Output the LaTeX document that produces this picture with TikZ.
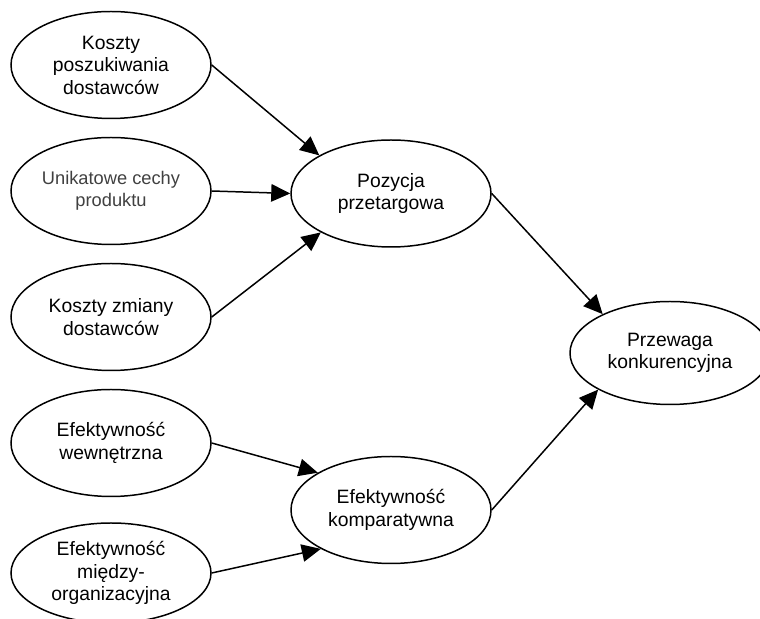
\documentclass[tikz,border=0pt]{standalone}
\usepackage{fontspec}
\setmainfont{Liberation Sans}
\usepackage{tikz}
\usetikzlibrary{shapes.geometric, arrows.meta, positioning}

\begin{document}
\begin{tikzpicture}[
    factor/.style={ellipse, draw, line width=0.85pt, inner sep=0pt,
        minimum width=4cm, minimum height=2.14cm, align=center,
        font=\fontsize{11}{12.8}\selectfont},
    link/.style={line width=0.85pt, -{Triangle[length=0.38cm, width=0.35cm]}}
]
    \useasboundingbox (0,0) rectangle (15.2,12.38);

    % Factors
    \node[factor] (kposz) at (2.22, 11.08) {Koszty\\poszukiwania\\dostawców};
    \node[factor, font=\fontsize{10.4}{12.3}\selectfont, text=black!75] (unik) at (2.22, 8.56) {Unikatowe cechy\\produktu};
    \node[factor] (kzmiany) at (2.22, 6.04) {Koszty zmiany\\dostawców};
    \node[factor] (efwew) at (2.22, 3.52) {Efektywność\\wewnętrzna};
    \node[factor, minimum height=2cm] (efmiedzy) at (2.22, 0.92) {Efektywność\\między-\\organizacyjna};

    % Middle level
    \node[factor] (pozycja) at (7.82, 8.51) {Pozycja\\przetargowa};
    \node[factor] (efkomp) at (7.82, 2.18) {Efektywność\\komparatywna};

    % Result
    \node[factor, minimum height=2.06cm] (przewaga) at (13.4, 5.32) {Przewaga\\konkurencyjna};

    % Arrows
    \draw[link] (kposz.east) -- (pozycja.152);
    \draw[link] (unik.east) -- (pozycja.west);
    \draw[link] (kzmiany.east) -- (pozycja.209);
    \draw[link] (efwew.east) -- (efkomp.153);
    \draw[link] (efmiedzy.east) -- (efkomp.209);
    \draw[link] (pozycja.east) -- (przewaga.150);
    \draw[link] (efkomp.east) -- (przewaga.207);
\end{tikzpicture}
\end{document}
